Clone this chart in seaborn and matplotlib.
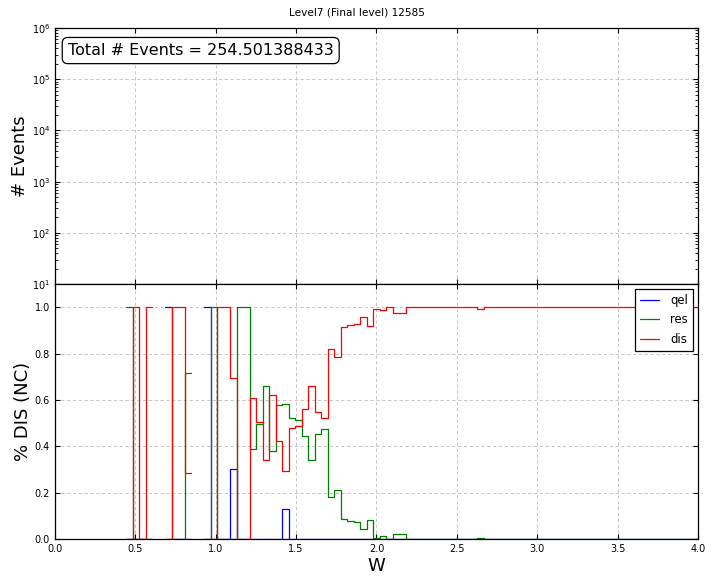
import numpy as np
import matplotlib
matplotlib.use("Agg")
import matplotlib.pyplot as plt
import seaborn as sns

nan = np.nan

# W binning: 99 bins between 0 and 4
w_edges = np.linspace(0, 4, 100)

# fraction of NC events per W bin for each interaction type (nan = empty bin)
qel = [nan] * 11 + [0, 0, 0, 0, nan, nan, 1, 0, 0, 0, nan, nan, 1, 0, 0, 0, 0.30,
       0, 0, 0, 0, 0, 0, 0, 0.13] + [0] * 63
res = [nan] * 11 + [1, 0, 0, 0, nan, nan, 0, 0, 0, 0.714, nan, nan, 0, 1, 0, 0, 0,
       1, 1, 0.39, 0.497, 0.66, 0.378, 0.58, 0.584, 0.524, 0.512, 0.443, 0.339,
       0.455, 0.476, 0.18, 0.211, 0.087, 0.078, 0.074, 0.044, 0.083, 0.006, 0.014,
       0, 0.023, 0.023, 0, 0, 0, 0, 0, 0, 0, 0, 0, 0, 0, 0.006] + [0] * 33
dis = [nan] * 11 + [0, 1, 0, 1, nan, nan, 0, 1, 1, 0.286, nan, nan, 0, 0, 1, 1, 0.695,
       0, 0, 0.61, 0.503, 0.339, 0.619, 0.421, 0.293, 0.477, 0.487, 0.559, 0.661,
       0.546, 0.524, 0.82, 0.786, 0.913, 0.923, 0.927, 0.957, 0.917, 0.994, 0.986,
       1.0, 0.977, 0.977, 1, 1, 1, 1, 1, 1, 1, 1, 1, 1, 1, 0.994] + [1] * 33

names = ["qel", "res", "dis"]
colors = ["#0000ff", "#008000", "#ff0000"]
total_events = "254.501388433"

sns.set_style("ticks", {
    "axes.edgecolor": "black", "axes.grid": True,
    "grid.color": "#bdbdbd", "grid.linestyle": "--",
    "xtick.direction": "in", "ytick.direction": "in",
    "xtick.top": True, "ytick.right": True,
    "xtick.color": "black", "ytick.color": "black",
    "text.color": "black", "axes.labelcolor": "black",
})
plt.rcParams["font.family"] = ["DejaVu Sans"]
plt.rcParams["xtick.labelsize"] = 7
plt.rcParams["ytick.labelsize"] = 7
plt.rcParams["grid.linewidth"] = 0.6
plt.rcParams["lines.dashed_pattern"] = (4, 3)
plt.rcParams["axes.linewidth"] = 0.9

fig = plt.figure(figsize=(7.13, 5.84), dpi=100)
ax1 = fig.add_axes([0.0771, 0.5137, 0.9019, 0.4383])
ax2 = fig.add_axes([0.0771, 0.0771, 0.9019, 0.4366])

centers = 0.5 * (w_edges[:-1] + w_edges[1:])

handles = []
for name, vals, c in zip(names, [qel, res, dis], colors):
    vals = np.array(vals, dtype=float)
    idx = np.flatnonzero(~np.isnan(vals))
    # split into runs of non-empty bins, lines break at empty bins
    groups = np.split(idx, np.flatnonzero(np.diff(idx) > 1) + 1)
    first = None
    for g in groups:
        run_edges = [float(e) for e in w_edges[g[0]:g[-1] + 2]]
        sns.histplot(x=list(centers[g]), weights=list(vals[g]), bins=run_edges,
                     element="step", fill=False, color=c, linewidth=0.9, ax=ax2)
        if first is None:
            first = ax2.lines[-1]
    handles.append(first)

# top panel: event counts (log scale)
ax1.set_yscale("log")
ax1.set_ylim(10, 1e6)
ax1.set_xlim(0, 4)
ax1.set_xticks(np.arange(0, 4.01, 0.5))
ax1.tick_params(labelbottom=False)
ax1.set_ylabel("# Events", fontsize=13, labelpad=2)
ax1.text(0.02, 0.912, "Total # Events = " + total_events, transform=ax1.transAxes,
         fontsize=11.5, va="center", ha="left",
         bbox=dict(boxstyle="round,pad=0.35", fc="white", ec="black", lw=0.9))

ax2.set_xlim(0, 4)
ax2.set_ylim(0, 1.1)
ax2.set_xticks(np.arange(0, 4.01, 0.5))
ax2.set_yticks(np.arange(0, 1.01, 0.2))
ax2.set_xlabel("W", fontsize=13, labelpad=2)
ax2.set_ylabel("% DIS (NC)", fontsize=13, labelpad=2)
leg = ax2.legend(handles, names, loc="upper right", fontsize=8.4, fancybox=False,
                 edgecolor="black", framealpha=1, borderaxespad=0.4,
                 handlelength=1.6, handletextpad=1.0, labelspacing=0.55,
                 borderpad=0.45)
leg.get_frame().set_linewidth(0.9)

fig.suptitle("Level7 (Final level) 12585", fontsize=7.6, y=0.978, va="center")

fig.savefig("out.png", dpi=100)
